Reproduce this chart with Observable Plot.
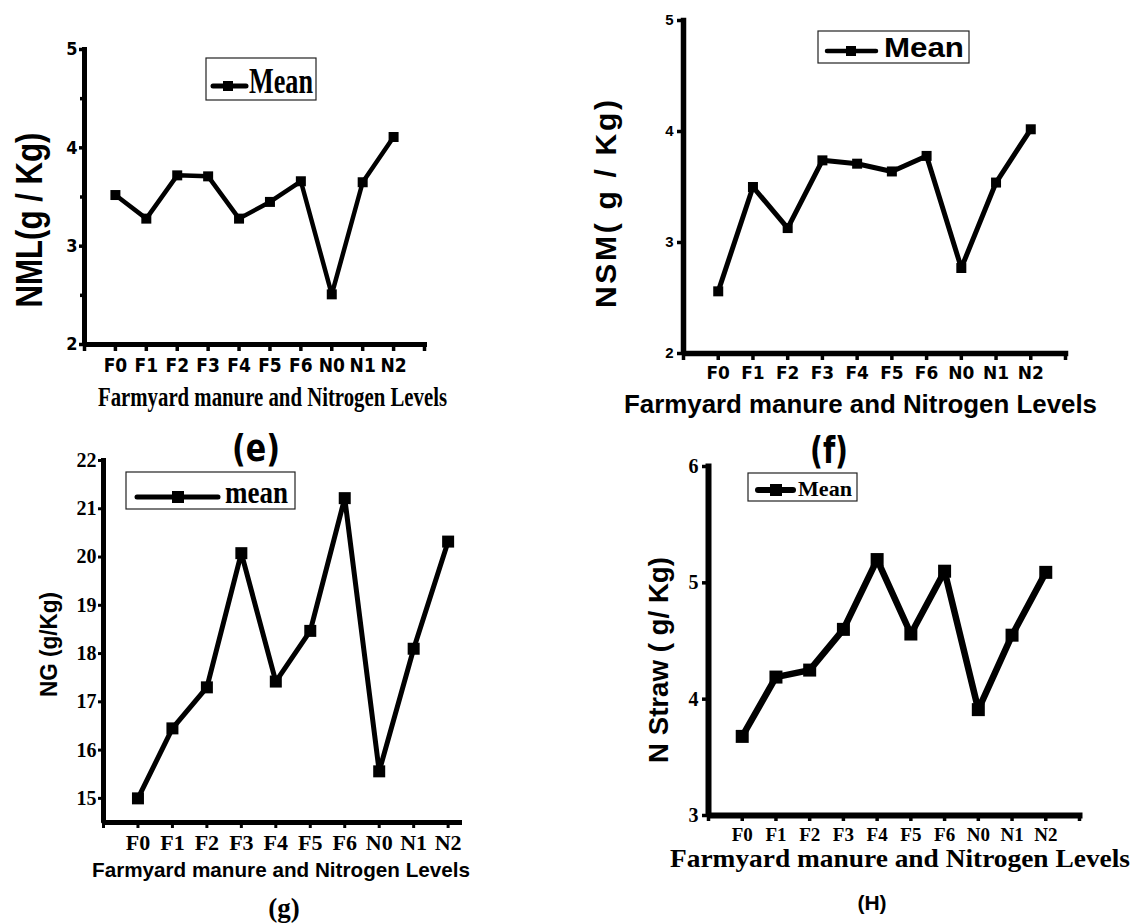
<!DOCTYPE html>
<html><head><meta charset="utf-8">
<script src="https://cdn.jsdelivr.net/npm/d3@7"></script>
<script src="https://cdn.jsdelivr.net/npm/@observablehq/plot@0.6"></script>
<style>
html,body{margin:0;padding:0;background:#fff;overflow:hidden;}
#chart{position:relative;width:1133px;height:924px;background:#fff;}
#chart svg{position:absolute;left:0;top:0;}
</style></head><body><div id="chart"></div>
<script>
// ---- data ----
const categories = ["F0","F1","F2","F3","F4","F5","F6","N0","N1","N2"];
const nmlValues    = [3.52, 3.28, 3.72, 3.71, 3.28, 3.45, 3.66, 2.51, 3.65, 4.11];
const nsmValues    = [2.56, 3.50, 3.13, 3.74, 3.71, 3.64, 3.78, 2.77, 3.54, 4.02];
const ngValues     = [15.0, 16.45, 17.3, 20.08, 17.42, 18.47, 21.22, 15.56, 18.1, 20.32];
const nStrawValues = [3.68, 4.19, 4.25, 4.60, 5.20, 4.56, 5.10, 3.91, 4.55, 5.09];
const yTicksNML = [2, 3, 4, 5];
const yMinorNML = [2.5, 3.5, 4.5];
const yTicksNSM = [2, 3, 4, 5];
const yTicksNG = [15, 16, 17, 18, 19, 20, 21, 22];
const yTicksStraw = [3, 4, 5, 6];
const xLabelText = "Farmyard manure and Nitrogen Levels";

const W = 1133, H = 924;
const SANS = "'Liberation Sans', Arial, sans-serif";
const SERIF = "'Liberation Serif', 'Times New Roman', serif";
const NARROW = "'Liberation Sans Narrow', 'DejaVu Sans Condensed', sans-serif";
const VERD = "'DejaVu Sans', Verdana, sans-serif";
const COND = "'DejaVu Sans Condensed', 'DejaVu Sans', sans-serif";

const panels = [
  { values: nmlValues, frame: [84, 424, 49, 344], xDomain: [0, 11], xTickCount: 12,
    yDomain: [2, 5], yTicks: yTicksNML, yMinor: yMinorNML,
    xFont: NARROW, xSize: 19, xTick: 7, xPad: 7,
    yFont: NARROW, ySize: 18, yTick: 5, yPad: 2,
    axisW: 5, tickW: 3.5, lineW: 4.5, side: 10,
    yLabel: {t: "NML(g / Kg)", x: 42, y: 220, f: SANS, s: 36, len: 175},
    xLabel: {t: xLabelText, x: 272.5, y: 406, f: SERIF, s: 27, len: 349},
    tag: {t: "(e)", x: 256, y: 461, f: COND, s: 38, len: 48},
    legend: {box: [206, 58, 110, 42], line: [213, 246, 86], marker: [228, 86, 10], lw: 5,
             t: "Mean", x: 249, y: 93, f: SERIF, s: 35, len: 64} },
  { values: nsmValues, frame: [683, 1065, 20, 353], xDomain: [0, 11], xTickCount: 12,
    yDomain: [2, 5], yTicks: yTicksNSM, yMinor: null,
    xFont: VERD, xSize: 17, xTick: 7, xPad: 6,
    yFont: SANS, ySize: 15, yTick: 6, yPad: 4,
    axisW: 5.5, tickW: 3.5, lineW: 5, side: 10,
    yLabel: {t: "NSM( g / Kg)", x: 616, y: 204, f: SANS, s: 30, len: 208, adj: "spacing"},
    xLabel: {t: xLabelText, x: 860.5, y: 413, f: SANS, s: 25, len: 473},
    tag: {t: "(f)", x: 829, y: 463, f: COND, s: 38, len: 38},
    legend: {box: [818, 31, 151, 32], line: [827, 876, 51], marker: [851, 51, 10], lw: 4.5,
             t: "Mean", x: 884, y: 57, f: SANS, s: 27, len: 80} },
  { values: ngValues, frame: [103, 459, 460, 822], xDomain: [0, 10.33], xTickCount: 11,
    yDomain: [14.5, 22], yTicks: yTicksNG, yMinor: null,
    xFont: SERIF, xSize: 22, xTick: 6, xPad: 6,
    yFont: SERIF, ySize: 20, yTick: 5, yPad: 2,
    axisW: 5, tickW: 3, lineW: 5, side: 12,
    yLabel: {t: "NG (g/Kg)", x: 57, y: 644.5, f: SANS, s: 23, len: 105},
    xLabel: {t: xLabelText, x: 281, y: 877, f: SANS, s: 21, len: 378},
    tag: {t: "(g)", x: 284, y: 917, f: SERIF, s: 27, len: null},
    legend: {box: [126, 472, 169, 37], line: [137, 218, 497], marker: [178, 497, 12], lw: 5,
             t: "mean", x: 225, y: 503, f: SERIF, s: 32, len: 63} },
  { values: nStrawValues, frame: [708, 1079, 466, 815], xDomain: [0, 11], xTickCount: 12,
    yDomain: [3, 6], yTicks: yTicksStraw, yMinor: null,
    xFont: SERIF, xSize: 19, xTick: 6, xPad: 6,
    yFont: SERIF, ySize: 20, yTick: 6, yPad: 4,
    axisW: 6, tickW: 3.5, lineW: 6.5, side: 13,
    yLabel: {t: "N Straw ( g/ Kg)", x: 668, y: 660, f: SANS, s: 28, len: 206},
    xLabel: {t: xLabelText, x: 900, y: 867, f: SERIF, s: 26, len: 460},
    tag: {t: "(H)", x: 872, y: 910, f: SANS, s: 21, len: null},
    legend: {box: [748, 473, 109, 28], line: [758, 793, 490], marker: [776, 490, 12], lw: 6,
             t: "Mean", x: 798, y: 496, f: SERIF, s: 22, len: 54} }
];

const chart = document.getElementById("chart");

function addText(g, o, anchor, rotate) {
  const t = g.append("text")
    .attr("transform", `translate(${o.x},${o.y})` + (rotate ? ` rotate(${rotate})` : ""))
    .attr("text-anchor", anchor)
    .attr("font-family", o.f)
    .attr("font-size", o.s)
    .attr("font-weight", "bold")
    .attr("fill", "black")
    .text(o.t);
  if (o.len) t.attr("textLength", o.len).attr("lengthAdjust", o.adj || "spacingAndGlyphs");
  return t;
}

for (const p of panels) {
  const rows = categories.map((c, k) => ({pos: k + 1, cat: c, value: p.values[k]}));
  const xTicks = d3.range(p.xTickCount);
  // L-shaped axis frame, drawn through the scales
  const axisPath = [
    {ax: p.xDomain[0], ay: p.yDomain[1]},
    {ax: p.xDomain[0], ay: p.yDomain[0]},
    {ax: p.xDomain[1], ay: p.yDomain[0]}
  ];
  const marks = [
    Plot.axisX(xTicks, {tickSize: p.xTick, tickPadding: p.xPad, strokeWidth: p.tickW,
      tickFormat: d => (d >= 1 && d <= categories.length) ? categories[d - 1] : "",
      fontFamily: p.xFont, fontSize: p.xSize, fontWeight: "bold", label: null}),
    Plot.axisY(p.yTicks, {tickSize: p.yTick, tickPadding: p.yPad, strokeWidth: p.tickW,
      tickFormat: d => String(d),
      fontFamily: p.yFont, fontSize: p.ySize, fontWeight: "bold", label: null}),
    p.yMinor ? Plot.axisY(p.yMinor, {tickSize: 4, strokeWidth: p.tickW, tickFormat: () => "", label: null}) : null,
    Plot.line(axisPath, {x: "ax", y: "ay", stroke: "black", strokeWidth: p.axisW, strokeLinejoin: "miter", strokeLinecap: "square"}),
    Plot.line(rows, {x: "pos", y: "value", stroke: "black", strokeWidth: p.lineW, strokeLinejoin: "miter"}),
    Plot.dot(rows, {x: "pos", y: "value", symbol: "square", r: p.side / Math.sqrt(Math.PI), fill: "black", stroke: null})
  ].filter(Boolean);

  const svg = Plot.plot({
    width: W, height: H,
    marginLeft: p.frame[0], marginRight: W - p.frame[1],
    marginTop: p.frame[2], marginBottom: H - p.frame[3],
    x: {domain: p.xDomain, label: null},
    y: {domain: p.yDomain, label: null},
    style: {background: "transparent", overflow: "visible", color: "black"},
    marks
  });

  const g = d3.select(svg).append("g");
  addText(g, p.yLabel, "middle", -90);
  addText(g, p.xLabel, "middle", 0);
  addText(g, p.tag, "middle", 0);

  const L = p.legend;
  g.append("rect").attr("x", L.box[0]).attr("y", L.box[1]).attr("width", L.box[2]).attr("height", L.box[3])
    .attr("fill", "white").attr("stroke", "#222").attr("stroke-width", 1.2);
  g.append("line").attr("x1", L.line[0]).attr("x2", L.line[1]).attr("y1", L.line[2]).attr("y2", L.line[2])
    .attr("stroke", "black").attr("stroke-width", L.lw).attr("stroke-linecap", "round");
  g.append("rect").attr("x", L.marker[0] - L.marker[2] / 2).attr("y", L.marker[1] - L.marker[2] / 2)
    .attr("width", L.marker[2]).attr("height", L.marker[2]).attr("fill", "black");
  addText(g, {t: L.t, x: L.x, y: L.y, f: L.f, s: L.s, len: L.len}, "start", 0);

  chart.appendChild(svg);
}
</script></body></html>
